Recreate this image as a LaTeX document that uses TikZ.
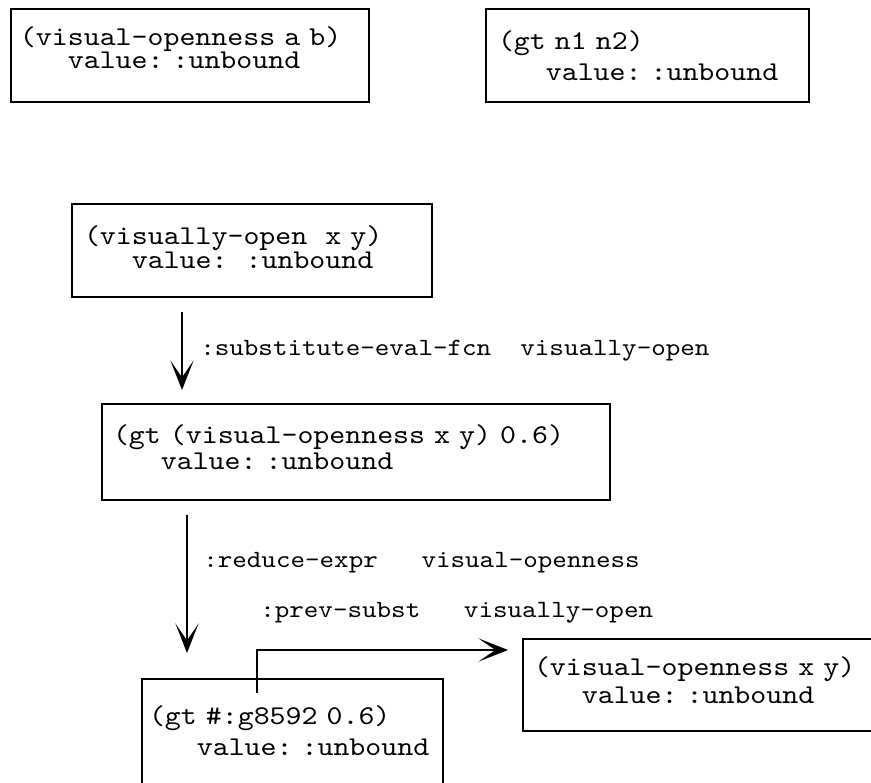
\documentclass[tikz,border=0pt]{standalone}
\usepackage{fontspec}
\newfontfamily\exprtt{lmmono10-regular.otf}[FakeStretch=1.12]
\usetikzlibrary{arrows.meta, calc}
\newcommand{\exprfont}{\exprtt\fontsize{19.3pt}{16pt}\selectfont\lineskiplimit=-20pt}
\newcommand{\notefont}{\exprtt\fontsize{17.6pt}{22pt}\selectfont}
\newcommand{\ind}{\phantom{xxx}}

\begin{document}
\begin{tikzpicture}[
  expr/.style={rectangle, draw, line width=2pt, anchor=north west,
               inner ysep=0pt, outer sep=0pt, align=left, font=\exprfont},
  note/.style={anchor=base west, inner sep=0pt, font=\notefont},
  arr/.style={-{Stealth[length=21pt, width=16.5pt, inset=12pt]}, line width=2pt}
]
\useasboundingbox (0,0) rectangle (21.775,-19.55);
\clip (0,0) rectangle (21.775,-19.55);

% expression boxes
\node[expr, inner xsep=0.225cm, text width=8.5cm, text height=0.925cm, text depth=1.4cm]
  (vopenab) at (0.275,-0.225) {(visual-openness~a~b)\\\ind value:~:unbound};
\node[expr, inner xsep=0.3cm, text width=7.475cm, text height=1.025cm, text depth=1.3cm]
  (gtn) at (12.15,-0.225) {(gt~n1~n2)\\[0.19cm]\ind value:~:unbound};
\node[expr, inner xsep=0.3cm, text width=8.4cm, text height=1cm, text depth=1.325cm]
  (vopen) at (1.8,-5.1) {(visually-open~~x~y)\\[0.04cm]\ind value:~~:unbound};
\node[expr, inner xsep=0.275cm, text width=12.15cm, text height=0.975cm, text depth=1.425cm]
  (gtexpr) at (2.55,-10.1) {(gt~(visual-openness~x~y)~0.6)\\[0.11cm]\ind value:~:unbound};
\node[expr, inner xsep=0.175cm, text width=7.175cm, text height=1.125cm, text depth=2.5cm]
  (gtsym) at (3.55,-16.975) {(gt~\#:g8592~0.6)\\[0.225cm]\ind value:~:unbound};
\node[expr, inner xsep=0.275cm, text width=8.95cm, text height=0.9cm, text depth=1.4cm]
  (vopenxy) at (13.075,-15.975) {(visual-openness~x~y)\\[0.14cm]\ind value:~:unbound};

% step labels
\node[note] (subst)  at (5.0,-8.875)   {:substitute-eval-fcn\ \ visually-open};
\node[note] (reduce) at (5.075,-14.175) {:reduce-expr\ \ \ visual-openness};
\node[note] (prev)   at (6.5,-15.425)  {:prev-subst\ \ \ visually-open};

% steps
\coordinate (s1) at ($(vopen.south west)+(2.75,-0.375)$);
\coordinate (s2) at ($(gtexpr.south west)+(2.125,-0.375)$);
\coordinate (s3) at ($(gtsym.north west)+(2.875,-0.35)$);
\coordinate (e3) at ($(vopenxy.north west)+(-0.375,-0.275)$);
\draw[arr] (s1) -- ($(s1 |- gtexpr.north)+(0,0.35)$);
\draw[arr] (s2) -- ($(s2 |- gtsym.north)+(0,0.65)$);
\draw[arr] (s3) |- (e3);
\end{tikzpicture}
\end{document}
